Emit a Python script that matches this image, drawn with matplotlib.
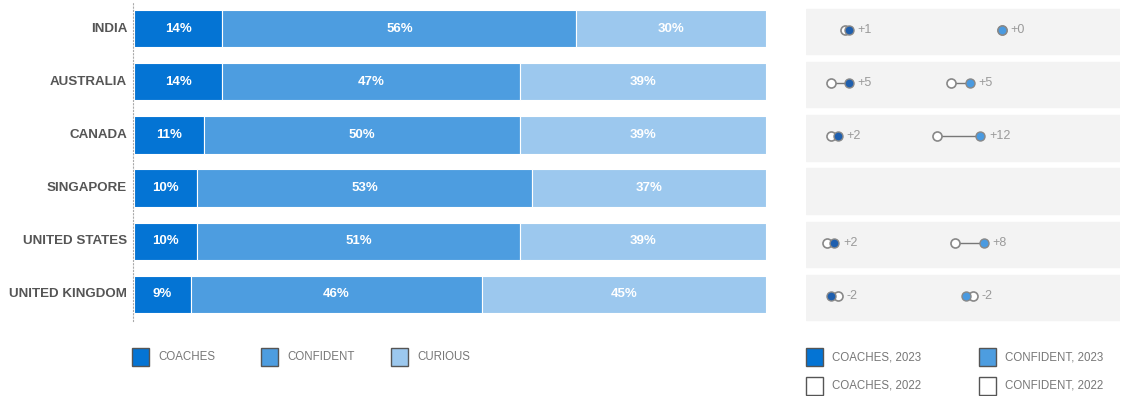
import matplotlib
matplotlib.use("Agg")
import matplotlib.pyplot as plt
from matplotlib.patches import Rectangle

countries = ["INDIA", "AUSTRALIA", "CANADA", "SINGAPORE", "UNITED STATES", "UNITED KINGDOM"]
coaches = [14, 14, 11, 10, 10, 9]
confident = [56, 47, 50, 53, 51, 46]
curious = [30, 39, 39, 37, 39, 45]

# 2022 values (None = no data for that country)
coaches_2022 = [13, 9, 9, None, 8, 11]
confident_2022 = [56, 42, 38, None, 43, 48]

c_coach = "#0474d4"
c_conf = "#4d9de0"
c_cur = "#9cc8ee"
c_dot_coach = "#1f5fae"
c_dot_conf = "#4a9ae0"

plt.rcParams["font.family"] = ["Liberation Sans", "DejaVu Sans"]
W, H = 1128, 396
fig = plt.figure(figsize=(W / 100, H / 100), dpi=100)


def box(x0, y0, x1, y1):
    # pixel box (top-left origin) -> figure fraction rect
    return [x0 / W, 1 - y1 / H, (x1 - x0) / W, (y1 - y0) / H]


# ---- stacked bars
ax = fig.add_axes(box(134, 2, 766, 321))
n = len(countries)
ys = list(range(n))
left = [0] * n
for vals, col in [(coaches, c_coach), (confident, c_conf), (curious, c_cur)]:
    ax.barh(ys, vals, left=left, height=0.7, color=col, edgecolor="white", linewidth=0.8)
    for y, l, v in zip(ys, left, vals):
        ax.text(l + v / 2, y, f"{v}%", ha="center", va="center", color="white",
                fontsize=9.5, fontweight="bold")
    left = [a + b for a, b in zip(left, vals)]
ax.set_xlim(0, 100)
ax.set_ylim(n - 0.5, -0.5)
ax.set_yticks([])
ax.set_xticks([])
for y, name in zip(ys, countries):
    ax.text(-0.011, y, name, transform=ax.get_yaxis_transform(), ha="right",
            va="center", fontsize=9.6, fontweight="bold", color="#555555")
for s in ["top", "right", "bottom"]:
    ax.spines[s].set_visible(False)
ax.spines["left"].set_linestyle((0, (1, 2)))
ax.spines["left"].set_color("#aaaaaa")
ax.spines["left"].set_position(("outward", 1))

# ---- dumbbells
ax2 = fig.add_axes(box(806, 5, 1120, 324))
px = 3.65
ax2.set_xlim(8 / px, 8 / px + 314 / px)
ax2.set_ylim(n - 0.5, -0.5)
ax2.axis("off")
for i in range(n):
    ax2.axhspan(i - 0.425, i + 0.425, color="#f3f3f3", zorder=0)
    for v23, v22, dc in [(coaches[i], coaches_2022[i], c_dot_coach),
                         (confident[i], confident_2022[i], c_dot_conf)]:
        if v22 is None:
            continue
        yy = i - 0.03
        ax2.plot([v22, v23], [yy, yy], color="#777777", lw=1, zorder=1)
        ax2.plot(v22, yy, "o", ms=6.5, mfc="white", mec="#888888", mew=1.2, zorder=2)
        ax2.plot(v23, yy, "o", ms=6.5, mfc=dc, mec="#888888", mew=1.0, zorder=3)
        d = v23 - v22
        lab = f"+{d}" if d >= 0 else f"-{abs(d)}"
        ax2.text(max(v22, v23) + 2.3, yy, lab, ha="left", va="center",
                 fontsize=9, color="#9a9a9a")

# ---- legends
def legend_item(x, y, col, label):
    fig.patches.append(Rectangle((x / W, 1 - (y + 9) / H), 17 / W, 18 / H,
                                 transform=fig.transFigure, facecolor=col,
                                 edgecolor="#555555", linewidth=1))
    fig.text((x + 26) / W, 1 - y / H, label, ha="left", va="center",
             fontsize=8.3, color="#777777")


legend_item(132, 357, c_coach, "COACHES")
legend_item(261, 357, c_conf, "CONFIDENT")
legend_item(391, 357, c_cur, "CURIOUS")
legend_item(806, 357, c_coach, "COACHES, 2023")
legend_item(979, 357, c_conf, "CONFIDENT, 2023")
legend_item(806, 386, "white", "COACHES, 2022")
legend_item(979, 386, "white", "CONFIDENT, 2022")

fig.savefig("out.png", dpi=100)
